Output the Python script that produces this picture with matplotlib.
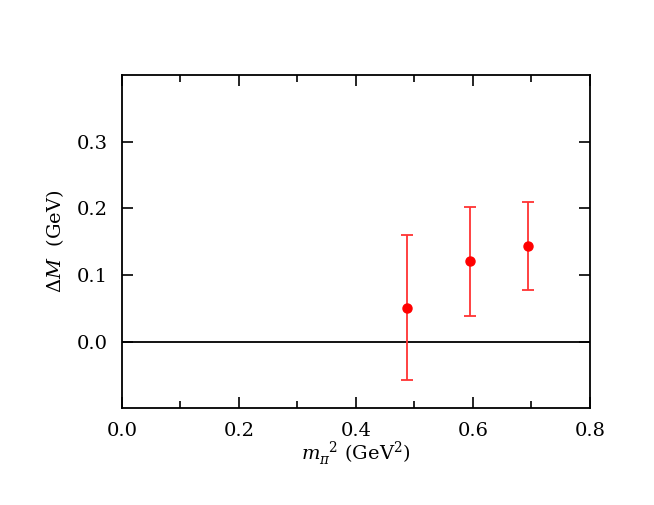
import matplotlib
matplotlib.use("Agg")
import matplotlib.pyplot as plt
from matplotlib.ticker import MultipleLocator

plt.rcParams['font.family'] = ['DejaVu Serif']
plt.rcParams['mathtext.fontset'] = 'dejavuserif'

mpi2 = [0.488, 0.595, 0.694]
dM = [0.051, 0.121, 0.143]
err_hi = [0.109, 0.081, 0.066]
err_lo = [0.108, 0.082, 0.065]

xticks = [0.0, 0.2, 0.4, 0.6, 0.8]
yticks = [0.0, 0.1, 0.2, 0.3]

fig = plt.figure(figsize=(6.54, 5.05), dpi=100)
ax = fig.add_axes([0.1865, 0.1915, 0.7155, 0.66])

ax.axhline(0.0, color='black', lw=1.3, zorder=1)
ax.errorbar(mpi2, dM, yerr=[err_lo, err_hi], fmt='o', color='#ff0000',
            ecolor='#ff3333', elinewidth=1.3, capsize=4, capthick=1.3,
            markersize=6.5, zorder=3)

ax.set_xlim(0.0, 0.8)
ax.set_ylim(-0.1, 0.4)
ax.set_xticks(xticks)
ax.set_xticklabels([f"{v:.1f}" for v in xticks])
ax.set_yticks(yticks)
ax.set_yticklabels([f"{v:.1f}" for v in yticks])
ax.xaxis.set_minor_locator(MultipleLocator(0.1))

ax.tick_params(which='both', direction='in', top=True, right=True,
               labelsize=14, width=1.2)
ax.tick_params(which='major', length=8, pad=10)
ax.tick_params(which='minor', length=5)
for s in ax.spines.values():
    s.set_linewidth(1.3)

ax.set_xlabel(r'$m_{\pi}^{\ \ 2}$ (GeV$^2$)', fontsize=14, labelpad=0)
ax.set_ylabel(r'$\Delta M$  (GeV)', fontsize=14, labelpad=8)

fig.savefig('out.png', dpi=100)
